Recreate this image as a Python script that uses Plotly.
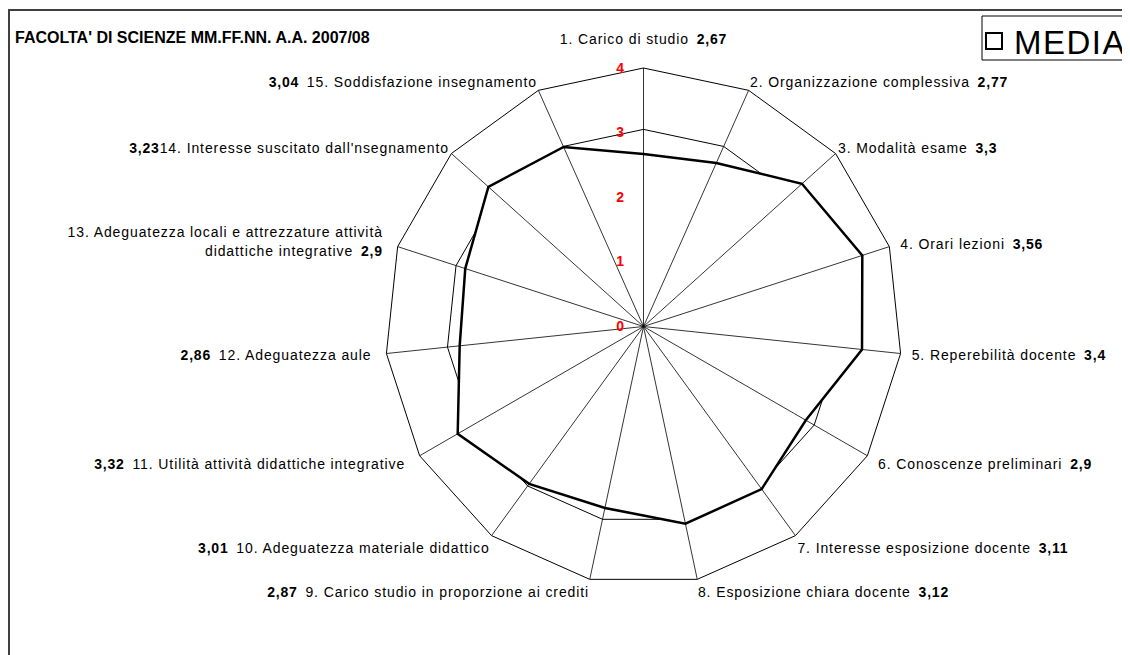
import plotly.graph_objects as go

# ---------------------------------------------------------------- data
categorie = [
    '1. Carico di studio',
    '2. Organizzazione complessiva',
    '3. Modalità esame',
    '4. Orari lezioni',
    '5. Reperebilità docente',
    '6. Conoscenze preliminari',
    '7. Interesse esposizione docente',
    '8. Esposizione chiara docente',
    '9. Carico studio in proporzione ai crediti',
    '10. Adeguatezza materiale didattico',
    '11. Utilità attività didattiche integrative',
    '12. Adeguatezza aule',
    '13. Adeguatezza locali e attrezzature attività<br>didattiche integrative',
    "14. Interesse suscitato dall'nsegnamento",
    '15. Soddisfazione insegnamento',
]
facolta = [2.67, 2.77, 3.3, 3.56, 3.4, 2.9, 3.11, 3.12, 2.87, 3.01, 3.32, 2.86, 2.9, 3.23, 3.04]
media = [3.05, 3.05, 3.05, 3.05, 3.05, 3.05, 3.05, 3.05, 3.05, 3.05, 3.05, 3.05, 3.05, 3.05, 3.05]
radial_ticks = [0, 1, 2, 3, 4]

# the page body has an 8px margin, so the figure is placed 8px in from the window corner
OFF = 8
W, H = 1130 - OFF, 655 - OFF


def px_x(x):
    return (x - OFF) / W


def px_y(y):
    return 1 - (y - OFF) / H


cx, cy, R = 643.5, 326.5, 258.5   # centre / radius of the radar (window pixels)
NB = '\u00a0'


def fmt(v):
    return ('%g' % v).replace('.', ',')


def val(v):
    return "<b><span style='font-size:14px;letter-spacing:0.8px'>" + fmt(v) + "</span></b>"


def lab(c):
    sp = "<span style='letter-spacing:0.9px'>"
    return sp + c.replace('<br>', '</span><br>' + sp) + '</span>'


# right half: label then value, left half: value then label
labels = []
for i, (c, v) in enumerate(zip(categorie, facolta)):
    if i < 8 or i == 12:
        t = lab(c) + '  ' + val(v)
    elif i == 13:
        t = val(v) + lab(c)
    else:
        t = val(v) + '  ' + lab(c)
    if i == 0:
        t = t + '<br> '            # lift the top label a bit
    elif i in (3, 4, 5):
        t = NB * 2 + t             # push side labels away from the polygon
    elif i in (10, 11, 12):
        t = t.replace('<br>', NB * 3 + '<br>') + NB * 3
    labels.append(t)

fig = go.Figure()

# MEDIA series (thin, white filled)
fig.add_trace(go.Scatterpolar(
    r=media + media[:1], theta=categorie + categorie[:1],
    mode='lines', fill='toself', fillcolor='white',
    line=dict(color='black', width=1),
    showlegend=False, hoverinfo='skip',
))

# faculty series (thick, white filled on top)
fig.add_trace(go.Scatterpolar(
    r=facolta + facolta[:1], theta=categorie + categorie[:1],
    mode='lines', fill='toself', fillcolor='white',
    line=dict(color='black', width=2.5),
    showlegend=False,
))

# spokes drawn above the white fills
for c in categorie:
    fig.add_trace(go.Scatterpolar(
        r=[0, radial_ticks[-1]], theta=[c, c], mode='lines',
        line=dict(color='black', width=0.8),
        showlegend=False, hoverinfo='skip',
    ))

# legend entry only
fig.add_trace(go.Scatterpolar(
    r=[None], theta=[categorie[0]], mode='markers',
    name="<span style='letter-spacing:1.5px'>MEDIA</span>",
    marker=dict(symbol='square-open', size=18, color='black', line=dict(width=2)),
))

fig.update_layout(
    width=W, height=H,
    margin=dict(l=0, r=0, t=0, b=0, autoexpand=False),
    paper_bgcolor='white',
    font=dict(family='Liberation Sans, Arial, sans-serif', size=14, color='black'),
    polar=dict(
        domain=dict(x=[px_x(cx - R), px_x(cx + R)], y=[px_y(cy + R), px_y(cy - R)]),
        bgcolor='white',
        gridshape='linear',
        angularaxis=dict(
            direction='clockwise', rotation=90,
            tickmode='array', tickvals=categorie, ticktext=labels,
            showgrid=False, showline=True, linecolor='black', linewidth=1,
            ticks='', tickfont=dict(size=14),
        ),
        radialaxis=dict(
            range=[0, 4], tickvals=radial_ticks, angle=90, side='counterclockwise',
            showgrid=False, showline=False,
            ticks='outside', ticklen=14, tickcolor='rgba(0,0,0,0)',
            tickfont=dict(size=14, color='red', family='Liberation Sans, Arial', weight='bold'),
            tickangle=90,
        ),
    ),
    legend=dict(
        x=px_x(974), y=px_y(13), xanchor='left', yanchor='top',
        borderwidth=0, bgcolor='rgba(0,0,0,0)',
        font=dict(size=33),
    ),
    showlegend=True,
)

# title
fig.add_annotation(
    text="<b>FACOLTA' DI SCIENZE MM.FF.NN. A.A. 2007/08</b>",
    xref='paper', yref='paper', x=px_x(13), y=px_y(37),
    xanchor='left', yanchor='middle', showarrow=False,
    font=dict(size=16),
)

# chart frame
fig.add_shape(
    type='rect', xref='paper', yref='paper',
    x0=px_x(9), x1=1.05, y0=-0.05, y1=px_y(10),
    line=dict(color='#404040', width=2),
)
# legend frame
fig.add_shape(
    type='rect', xref='paper', yref='paper',
    x0=px_x(982), x1=1.05, y0=px_y(60), y1=px_y(16),
    line=dict(color='black', width=1),
)

fig.write_html('out.html')
